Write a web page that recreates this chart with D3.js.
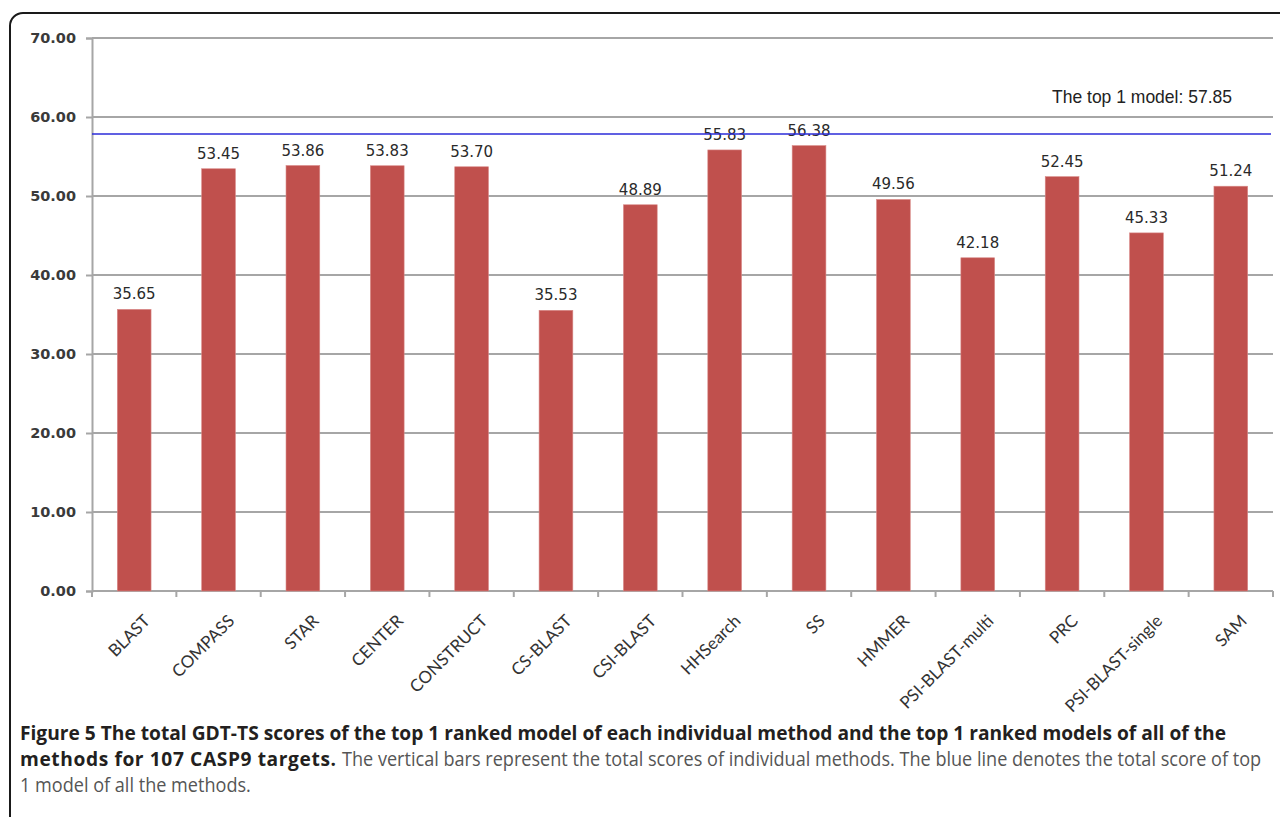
<!DOCTYPE html>
<html><head><meta charset="utf-8">
<script src="https://cdn.jsdelivr.net/npm/d3@7"></script>
<style>body{margin:0;background:#fff}svg{display:block}</style>
</head><body>
<svg id="c" width="1280" height="817"></svg>
<script>
const categories = ["BLAST","COMPASS","STAR","CENTER","CONSTRUCT","CS-BLAST","CSI-BLAST","HHSearch","SS","HMMER","PSI-BLAST-multi","PRC","PSI-BLAST-single","SAM"];
const values = [35.65,53.45,53.86,53.83,53.70,35.53,48.89,55.83,56.38,49.56,42.18,52.45,45.33,51.24];
const topModel = 57.85;
const yTicks = [0,10,20,30,40,50,60,70];
const topLabel = "The top 1 model: 57.85";
const captionBold1 = "Figure 5 The total GDT-TS scores of the top 1 ranked model of each individual method and the top 1 ranked models of all of the";
const captionBold2 = "methods for 107 CASP9 targets.";
const captionNorm2 = "The vertical bars represent the total scores of individual methods. The blue line denotes the total score of top";
const captionNorm3 = "1 model of all the methods.";

const svg = d3.select("#c");
svg.append("rect").attr("x",10).attr("y",13).attr("width",1300).attr("height",830)
  .attr("rx",13).attr("fill","none").attr("stroke","#1a1a1a").attr("stroke-width",2);

const x = d3.scaleBand().domain(categories).range([92,1273]).paddingInner(0.6).paddingOuter(0.3);
const y = d3.scaleLinear().domain([0,70]).range([591,38]);
const gridColor = "#a6a6a6";

// gridlines
svg.append("g").selectAll("line").data(yTicks.filter(d=>d>0)).join("line")
  .attr("x1",92).attr("x2",1273).attr("y1",d=>y(d)).attr("y2",d=>y(d))
  .attr("stroke",gridColor).attr("stroke-width",2);

// y axis
const ya = svg.append("g").attr("transform","translate(92,0)")
  .call(d3.axisLeft(y).tickValues(yTicks).tickFormat(d3.format(".2f")).tickSize(6).tickPadding(10));
ya.select(".domain").attr("stroke",gridColor).attr("stroke-width",2);
ya.selectAll(".tick line").attr("stroke",gridColor).attr("stroke-width",2);
ya.selectAll("text").attr("font-family","DejaVu Sans").attr("font-weight","bold").attr("font-size",14.5).attr("fill","#3a3a3a");

// x axis baseline and ticks at category boundaries
const n = categories.length;
svg.append("line").attr("x1",92).attr("x2",1273).attr("y1",y(0)).attr("y2",y(0)).attr("stroke",gridColor).attr("stroke-width",2);
svg.append("g").selectAll("line").data(d3.range(n+1)).join("line")
  .attr("x1",i=>92+i*(1181/n)).attr("x2",i=>92+i*(1181/n))
  .attr("y1",y(0)).attr("y2",y(0)+6).attr("stroke",gridColor).attr("stroke-width",2);

// bars
svg.append("g").selectAll("rect").data(values).join("rect")
  .attr("x",(d,i)=>x(categories[i])).attr("width",x.bandwidth())
  .attr("y",d=>y(d)).attr("height",d=>y(0)-y(d))
  .attr("fill","#c0504d").attr("stroke","#d98a88").attr("stroke-width",0.6);

// value labels
svg.append("g").selectAll("text").data(values).join("text")
  .attr("x",(d,i)=>x(categories[i])+x.bandwidth()/2).attr("y",d=>y(d)-10)
  .attr("text-anchor","middle").attr("font-family","DejaVu Sans").attr("font-size",15)
  .attr("fill","#2a2a2a").text(d=>d.toFixed(2));

// category labels
svg.append("g").selectAll("text").data(categories).join("text")
  .attr("transform",d=>`translate(${x(d)+x.bandwidth()/2+17},${y(0)+31}) rotate(-45)`)
  .attr("text-anchor","end").attr("font-family","Lato").attr("font-size",17)
  .attr("fill","#333").text(d=>d);

// top model line
svg.append("line").attr("x1",92).attr("x2",1271).attr("y1",y(topModel)).attr("y2",y(topModel))
  .attr("stroke","#2b2bd9").attr("stroke-width",1.6);
svg.append("text").attr("x",1052).attr("y",103).attr("font-family","Liberation Sans").attr("font-size",18.5)
  .attr("fill","#222").attr("textLength",180).attr("lengthAdjust","spacingAndGlyphs").text(topLabel);

// caption: condensed glyphs with a common horizontal scale
const fs = 19.5;
function seg(str,bold,x0,yb){
  const g = svg.append("g");
  const t = g.append("text").attr("font-family","Open Sans").attr("font-size",fs)
    .attr("font-weight",bold?"bold":"normal").attr("fill",bold?"#231f20":"#555").attr("y",yb).text(str);
  return {g,t,w:t.node().getComputedTextLength(),x0};
}
function place(o,sx){ o.g.attr("transform",`translate(${o.x0},0) scale(${sx},1)`); }
const b1 = seg(captionBold1,true,20,740);
const s = (1227-20)/b1.w; place(b1,s);
const b2 = seg(captionBold2,true,20,766); place(b2,s);
const b2end = 336;
if (b2.w*s < b2end-20) b2.t.attr("textLength",(b2end-20)/s).attr("lengthAdjust","spacing");
const n2 = seg(captionNorm2,false,b2end+6,766);
place(n2,(1262-b2end-6)/n2.w);
const n3 = seg(captionNorm3,false,20,792); place(n3,(1262-b2end-6)/n2.w);
</script>
</body></html>
